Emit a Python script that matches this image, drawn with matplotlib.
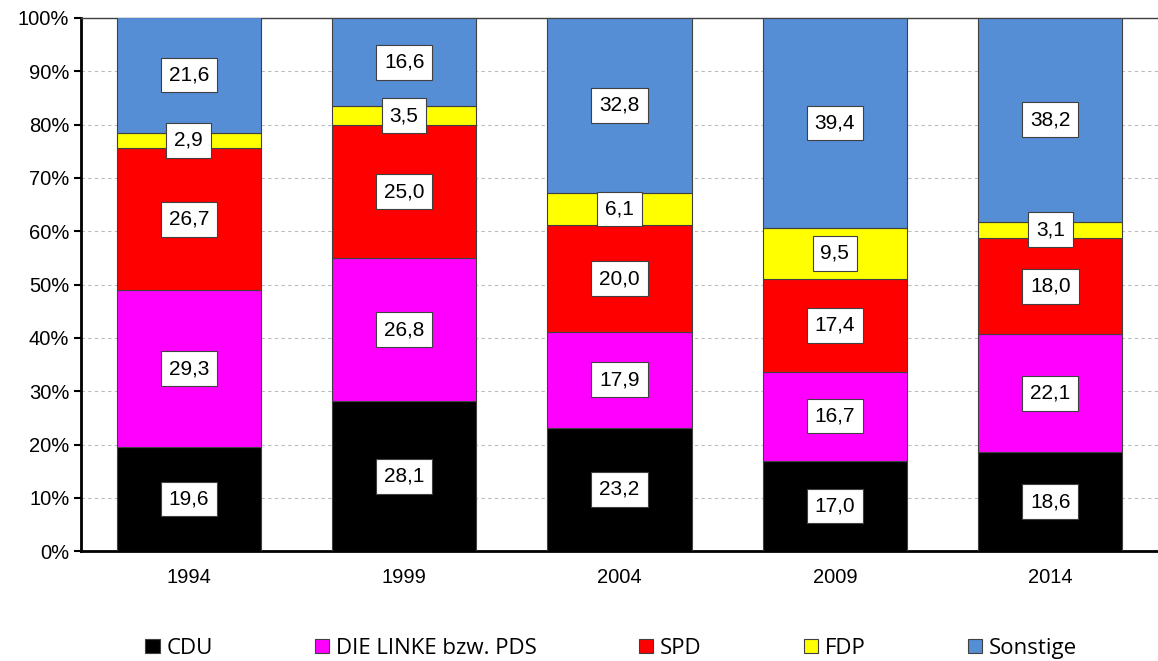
import matplotlib.pyplot as plt
import numpy as np

# election years and party shares (percent)
years = ['1994', '1999', '2004', '2009', '2014']
parties = ['CDU', 'DIE LINKE bzw. PDS', 'SPD', 'FDP', 'Sonstige']
cdu = [19.6, 28.1, 23.2, 17.0, 18.6]
linke = [29.3, 26.8, 17.9, 16.7, 22.1]
spd = [26.7, 25.0, 20.0, 17.4, 18.0]
fdp = [2.9, 3.5, 6.1, 9.5, 3.1]
sonstige = [21.6, 16.6, 32.8, 39.4, 38.2]
colors = ['#000000', '#FF00FF', '#FF0000', '#FFFF00', '#558ED5']

series = [cdu, linke, spd, fdp, sonstige]

fig = plt.figure(figsize=(11.58, 6.61), dpi=100)
ax = fig.add_axes([0.070, 0.166, 0.93, 0.807])

x = np.arange(len(years))
bottom = np.zeros(len(years))
for vals, name, col in zip(series, parties, colors):
    vals = np.array(vals)
    ax.bar(x, vals, 0.67, bottom=bottom, color=col, edgecolor='#404040',
           linewidth=0.8, label=name, zorder=3)
    # value boxes in the middle of each segment
    for xi, b, v in zip(x, bottom, vals):
        ax.text(xi, b + v / 2, f'{v:.1f}'.replace('.', ','), ha='center', va='center',
                fontsize=15, family='Liberation Sans', zorder=4,
                bbox=dict(boxstyle='square,pad=0.38', fc='white', ec='#404040', lw=0.8))
    bottom = bottom + vals

ax.set_xlim(-0.5, len(years) - 0.5)
ax.set_ylim(0, 100)
ax.set_yticks(range(0, 101, 10))
ax.set_yticklabels([f'{t}%' for t in range(0, 101, 10)], family='Liberation Sans', fontsize=14.5)
ax.set_xticks(x)
ax.set_xticklabels(years, family='Liberation Sans', fontsize=14.5)
ax.tick_params(axis='x', length=0, pad=12)
ax.tick_params(axis='y', length=5, width=1.5, direction='out')
ax.yaxis.grid(True, linestyle=(0, (3, 3)), color='#BBBBBB', linewidth=0.8, zorder=0)

ax.spines['left'].set_linewidth(2)
ax.spines['bottom'].set_linewidth(2)
ax.spines['right'].set_visible(False)
ax.spines['top'].set_color('#404040')
ax.spines['top'].set_linewidth(1)

fig.legend(loc='lower left', bbox_to_anchor=(0.108, -0.027), ncol=5, frameon=False,
           prop={'family': 'Open Sans', 'size': 16}, handlelength=0.65, handleheight=0.65,
           handletextpad=0.3, columnspacing=4.6)

fig.savefig('out.png', dpi=100)
